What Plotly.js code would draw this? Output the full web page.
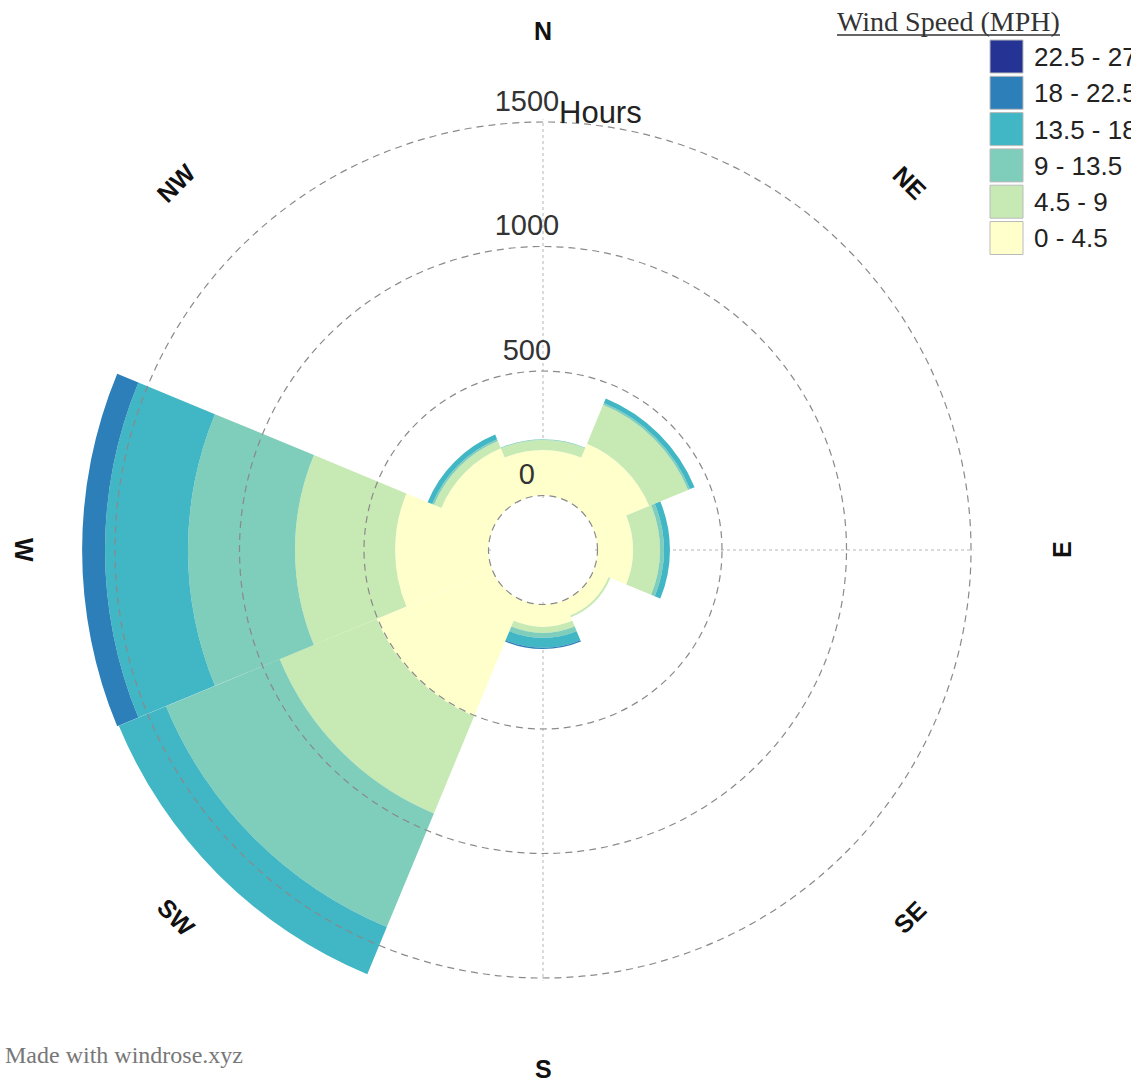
<!DOCTYPE html>
<html>
<head>
<meta charset="utf-8">
<script src="https://cdn.plot.ly/plotly-3.0.1.min.js"></script>
<style>
html,body{margin:0;padding:0;background:#fff;}
#chart{width:1131px;height:1087px;}
</style>
</head>
<body>
<div id="chart"></div>
<script>
// ---- data ----
const directions = ['N', 'NE', 'E', 'SE', 'S', 'SW', 'W', 'NW'];
const directionAngles = [0, 45, 90, 135, 180, 225, 270, 315];
const labelRotations = [0, 45, -90, -45, 0, 45, 90, -45];
const speedBins = ['0 - 4.5', '4.5 - 9', '9 - 13.5', '13.5 - 18', '18 - 22.5', '22.5 - 27'];
const binColors = ['#ffffcc', '#c7e9b4', '#7fcdbb', '#41b6c4', '#2c7fb8', '#253494'];
const hours_0_4_5   = [183, 243, 143, 66, 89, 504, 375, 223];
const hours_4_5_9   = [40, 169, 108, 8, 25, 422, 402, 32];
const hours_9_13_5  = [3, 8, 16, 0, 20, 494, 430, 8];
const hours_13_5_18 = [0, 20, 24, 0, 40, 205, 333, 20];
const hours_18_22_5 = [0, 0, 0, 0, 5, 0, 92, 0];
const hours_22_5_27 = [0, 0, 0, 0, 0, 0, 0, 0];
const radialTicks = [0, 500, 1000, 1500];
const radialTickText = ['0', '500', '1000', '1500'];

const series = [hours_0_4_5, hours_4_5_9, hours_9_13_5, hours_13_5_18, hours_18_22_5, hours_22_5_27];

// ---- geometry (layout only) ----
const W = 1131, H = 1087;
const cx = 543, cy = 550;
const holePx = 52.0;
const gridRange = [-10, 1510];
const barRange = [-10, 1650];
const R1 = 430.5;
const k = (R1 - holePx) / (gridRange[1] - gridRange[0]);
const R2 = holePx + (barRange[1] - barRange[0]) * k;
function dom(R) {
  return { x: [(cx - R) / W, (cx + R) / W], y: [(H - cy - R) / H, (H - cy + R) / H] };
}

const traces = [];
// bottom subplot: angular grid only (needs one invisible trace)
traces.push({
  type: 'scatterpolar', subplot: 'polar', r: [0], theta: [0], mode: 'markers',
  marker: { opacity: 0, size: 1 }, hoverinfo: 'skip', showlegend: false
});
// middle subplot: stacked bars
series.forEach(function (vals, i) {
  traces.push({
    type: 'barpolar',
    subplot: 'polar2',
    name: speedBins[i],
    r: vals,
    theta: directionAngles,
    width: directionAngles.map(function () { return 45; }),
    marker: { color: binColors[i], line: { width: 0 } },
    hoverinfo: 'skip',
    showlegend: false
  });
});
// top subplot: radial grid circles + radial tick labels
const pad = '\u00a0\u00a0\u00a0\u00a0';
traces.push({
  type: 'scatterpolar', subplot: 'polar3',
  r: radialTicks, theta: radialTicks.map(function () { return 0; }),
  mode: 'markers+text', text: radialTickText.map(function (t) { return t + pad; }),
  marker: { size: 5, opacity: 0 },
  textposition: 'top center',
  textfont: { family: 'Liberation Sans, Arial, sans-serif', size: 29, color: '#333' },
  cliponaxis: false, hoverinfo: 'skip', showlegend: false
});

const annotations = [];
const shapes = [];

// direction labels
directions.forEach(function (d, i) {
  const a = directionAngles[i] * Math.PI / 180;
  const px = cx + 519 * Math.sin(a);
  const py = cy - 519 * Math.cos(a);
  annotations.push({
    xref: 'paper', yref: 'paper', x: px / W, y: 1 - py / H,
    xanchor: 'center', yanchor: 'middle', showarrow: false,
    text: '<b>' + d + '</b>', textangle: labelRotations[i],
    font: { family: 'Liberation Sans, Arial, sans-serif', size: 25, color: '#111' }
  });
});

// radial axis title
annotations.push({
  xref: 'paper', yref: 'paper', x: 557 / W, y: 1 - 113 / H,
  xanchor: 'left', yanchor: 'middle', showarrow: false, text: 'Hours',
  font: { family: 'Liberation Sans, Arial, sans-serif', size: 31, color: '#222' }
});

// legend title + underline
annotations.push({
  xref: 'paper', yref: 'paper', x: 835 / W, y: 1 - 22 / H,
  xanchor: 'left', yanchor: 'middle', showarrow: false, text: 'Wind Speed (MPH)',
  font: { family: 'Liberation Serif, Times New Roman, serif', size: 28, color: '#333' }
});
shapes.push({
  type: 'line', xref: 'paper', yref: 'paper',
  x0: 837 / W, x1: 1060 / W, y0: 1 - 35 / H, y1: 1 - 35 / H,
  line: { color: '#333', width: 1.5 }
});

// legend items (top = highest bin)
for (let j = 0; j < speedBins.length; j++) {
  const i = speedBins.length - 1 - j;
  const top = 40 + j * 36.3;
  shapes.push({
    type: 'rect', xref: 'paper', yref: 'paper',
    x0: 990 / W, x1: 1023 / W, y0: 1 - top / H, y1: 1 - (top + 33) / H,
    fillcolor: binColors[i], line: { color: '#bbbbbb', width: 1 }
  });
  annotations.push({
    xref: 'paper', yref: 'paper', x: 1032 / W, y: 1 - (top + 17) / H,
    xanchor: 'left', yanchor: 'middle', showarrow: false, text: speedBins[i],
    font: { family: 'Liberation Sans, Arial, sans-serif', size: 26, color: '#222' }
  });
}

// footer
annotations.push({
  xref: 'paper', yref: 'paper', x: 3 / W, y: 1 - 1055 / H,
  xanchor: 'left', yanchor: 'middle', showarrow: false, text: 'Made with windrose.xyz',
  font: { family: 'Liberation Serif, Times New Roman, serif', size: 24, color: '#777' }
});

const hiddenAngular = {
  rotation: 90, direction: 'clockwise',
  showticklabels: false, ticks: '', showline: false, showgrid: false
};

const layout = {
  width: W, height: H,
  margin: { l: 0, r: 0, t: 0, b: 0, pad: 0 },
  paper_bgcolor: '#ffffff',
  showlegend: false,
  dragmode: false,
  polar: {
    domain: dom(R1),
    hole: holePx / R1,
    bgcolor: '#ffffff',
    angularaxis: {
      rotation: 90, direction: 'clockwise',
      tickvals: [0, 90, 180, 270], showticklabels: false, ticks: '',
      showline: false, showgrid: true, gridcolor: '#b5b5b5', gridwidth: 1, griddash: 'dot'
    },
    radialaxis: {
      range: gridRange, showgrid: false, showticklabels: false, showline: false, ticks: ''
    }
  },
  polar2: {
    domain: dom(R2),
    hole: holePx / R2,
    bgcolor: 'rgba(0,0,0,0)',
    barmode: 'stack',
    bargap: 0,
    angularaxis: hiddenAngular,
    radialaxis: {
      range: barRange, showgrid: false, showticklabels: false, showline: false, ticks: ''
    }
  },
  polar3: {
    domain: dom(R1),
    hole: holePx / R1,
    bgcolor: 'rgba(0,0,0,0)',
    angularaxis: hiddenAngular,
    radialaxis: {
      range: gridRange, tickvals: radialTicks, showticklabels: false, showline: false, ticks: '',
      showgrid: true, gridcolor: '#8a8a8a', gridwidth: 1.2, griddash: '7px,5px'
    }
  },
  annotations: annotations,
  shapes: shapes
};

Plotly.newPlot('chart', traces, layout, { staticPlot: true, displayModeBar: false });
</script>
</body>
</html>
